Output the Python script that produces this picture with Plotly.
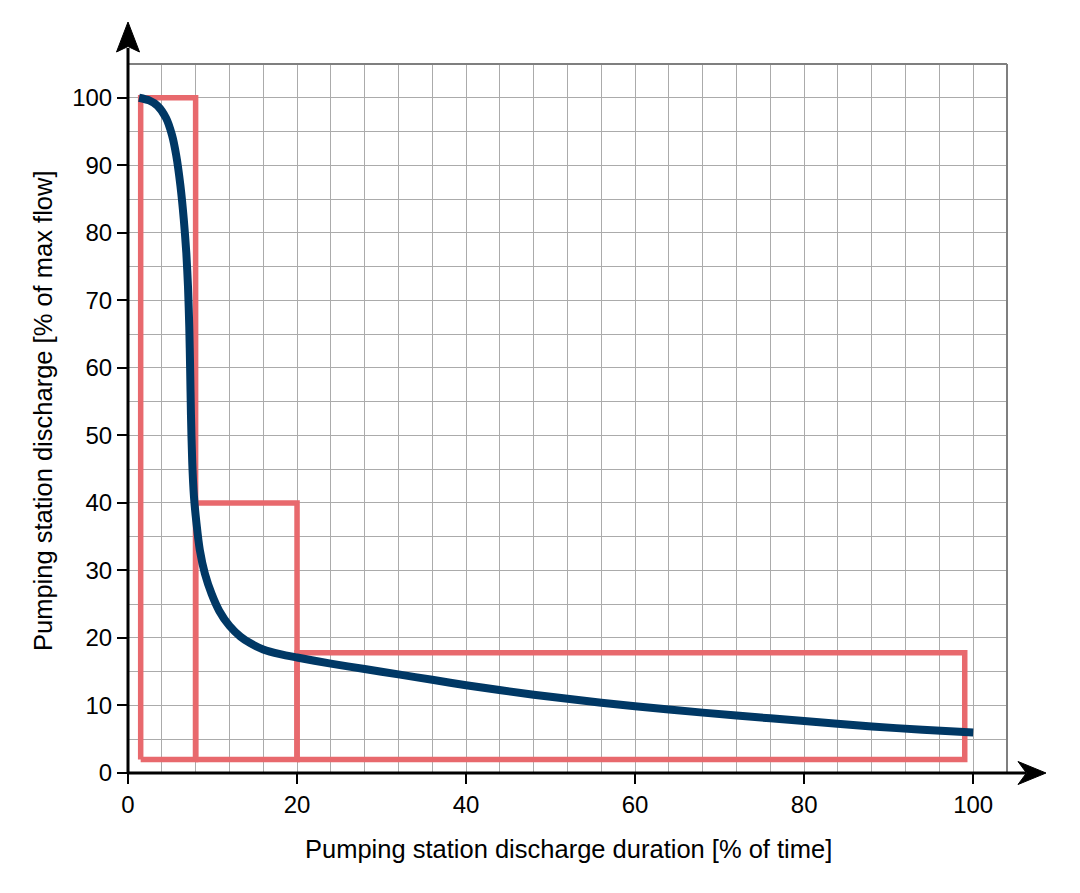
import plotly.graph_objects as go

# ---------------- data ----------------
curve_x = [1.3, 2.5, 3.5, 4.5, 5.2, 5.7, 6.2, 6.6, 6.9, 7.1, 7.25, 7.35, 7.45, 7.6, 7.8,
           8.1, 8.5, 9.1, 9.9, 10.8, 12.0, 13.3, 14.5, 16.0, 18.0, 20.0, 24, 28, 32, 36,
           40, 48, 56, 64, 72, 80, 88, 94, 100]
curve_y = [100, 99.6, 98.8, 97.0, 94.5, 91.5, 87, 82, 77, 72, 66, 60, 53, 46, 41,
           37, 33, 29.5, 26.5, 24, 21.8, 20.2, 19.2, 18.3, 17.6, 17.1, 16.2, 15.4, 14.6, 13.8,
           13.0, 11.6, 10.4, 9.4, 8.5, 7.7, 6.9, 6.4, 6.0]

rect_x0 = [1.5, 8, 20]
rect_x1 = [8, 20, 99]
rect_y0 = [2, 2, 2]
rect_y1 = [100, 40, 17.8]

x_ticks = [0, 20, 40, 60, 80, 100]
y_ticks = [0, 10, 20, 30, 40, 50, 60, 70, 80, 90, 100]

x_title = "Pumping station discharge duration [% of time]"
y_title = "Pumping station discharge [% of max flow]"

# ---------------- layout geometry ----------------
W, H = 1080, 893
ML, MR, MT, MB = 128, 73, 64, 120
PW, PH = W - ML - MR, H - MT - MB


def px(xp):
    return (xp - ML) / PW


def py(yp):
    return (H - MB - yp) / PH


RED = "#E8696D"
NAVY = "#003865"
GRID = "#ababab"
FONT = "Liberation Sans, Arial, sans-serif"

fig = go.Figure()

for x0, x1, y0, y1 in zip(rect_x0, rect_x1, rect_y0, rect_y1):
    fig.add_trace(go.Scatter(
        x=[x0, x1, x1, x0, x0], y=[y0, y0, y1, y1, y0],
        mode="lines", line=dict(color=RED, width=5.5),
        hoverinfo="skip", showlegend=False, cliponaxis=False))

fig.add_trace(go.Scatter(
    x=curve_x, y=curve_y, mode="lines",
    line=dict(color=NAVY, width=8, shape="spline", smoothing=0.7),
    showlegend=False, cliponaxis=False))

fig.update_xaxes(
    range=[0, 104], tickmode="array", tickvals=x_ticks,
    ticks="outside", ticklen=10, tickwidth=1.5, tickcolor="black",
    showgrid=True, gridcolor=GRID, gridwidth=1.2,
    minor=dict(dtick=4, tick0=0, showgrid=True, gridcolor=GRID, gridwidth=1.2, ticks=""),
    zeroline=False, showline=False,
    tickfont=dict(family=FONT, size=24, color="black"))
fig.update_yaxes(
    range=[0, 105], tickmode="array", tickvals=y_ticks,
    ticks="outside", ticklen=10, tickwidth=1.5, tickcolor="black",
    showgrid=True, gridcolor=GRID, gridwidth=1.2,
    minor=dict(dtick=5, tick0=0, showgrid=True, gridcolor=GRID, gridwidth=1.2, ticks=""),
    zeroline=False, showline=False,
    tickfont=dict(family=FONT, size=24, color="black"))

shapes = [
    # grey frame top/right
    dict(type="line", xref="paper", yref="paper", x0=0, x1=1, y0=1, y1=1,
         line=dict(color="#7f7f7f", width=2)),
    dict(type="line", xref="paper", yref="paper", x0=1, x1=1, y0=0, y1=1,
         line=dict(color="#7f7f7f", width=2)),
    # black axes
    dict(type="line", xref="paper", yref="paper", x0=0, x1=0, y0=py(774), y1=py(48),
         line=dict(color="black", width=3)),
    dict(type="line", xref="paper", yref="paper", x0=px(127), x1=px(1026), y0=0, y1=0,
         line=dict(color="black", width=3)),
    # arrowheads
    dict(type="path", xref="paper", yref="paper",
         path=f"M {px(128)} {py(22)} L {px(116.5)} {py(52)} L {px(128)} {py(46.5)} "
              f"L {px(139.5)} {py(52)} Z",
         fillcolor="black", line=dict(color="black", width=1)),
    dict(type="path", xref="paper", yref="paper",
         path=f"M {px(1046)} {py(773)} L {px(1018)} {py(761.5)} L {px(1026.5)} {py(773)} "
              f"L {px(1018)} {py(784.5)} Z",
         fillcolor="black", line=dict(color="black", width=1)),
]

annotations = [
    dict(text=x_title, xref="paper", yref="paper", x=px(568), y=py(849),
         xanchor="center", yanchor="middle", showarrow=False,
         font=dict(family=FONT, size=25.5, color="black")),
    dict(text=y_title, xref="paper", yref="paper", x=px(43), y=py(411),
         xanchor="center", yanchor="middle", showarrow=False, textangle=-90,
         font=dict(family=FONT, size=25.5, color="black")),
]

fig.update_layout(
    width=W, height=H,
    margin=dict(l=ML, r=MR, t=MT, b=MB),
    paper_bgcolor="white", plot_bgcolor="white",
    shapes=shapes, annotations=annotations,
    showlegend=False,
)

fig.write_html("out.html")
